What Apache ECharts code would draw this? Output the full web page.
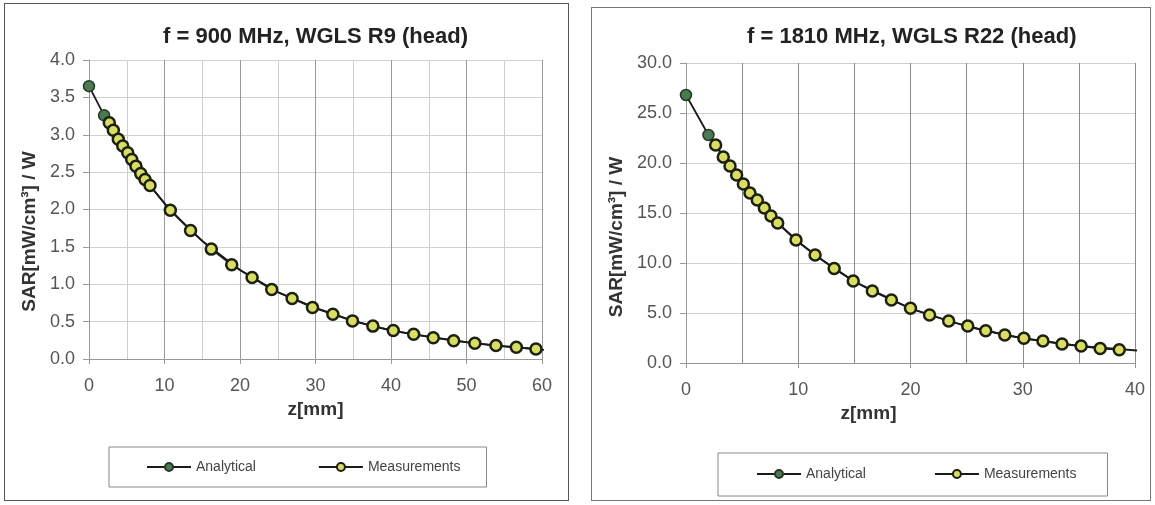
<!DOCTYPE html>
<html lang="en">
<head>
    <meta charset="UTF-8">
    <script src="https://cdn.jsdelivr.net/npm/echarts@6/dist/echarts.min.js"></script>
    <title>SAR vs depth</title>
    <style>
        body {
            margin: 0;
            background: #fff;
        }

        .frame {
            position: absolute;
            box-sizing: border-box;
            border: 1px solid #555;
        }

        #frame_900 {
            left: 4px;
            top: 3px;
            width: 565px;
            height: 498px;
        }

        #frame_1810 {
            left: 591px;
            top: 7px;
            width: 560px;
            height: 494px;
            border-color: #777;
        }

        .chart {
            width: 100%;
            height: 100%;
        }
    </style>
</head>

<body>
<div class="frame" id="frame_900"><div class="chart" id="chart_900"></div></div>
<div class="frame" id="frame_1810"><div class="chart" id="chart_1810"></div></div>

<script>
    // f = 900 MHz
    var analyticalZ900 = [0, 2, 4, 6, 8, 10, 12, 15, 20, 25, 30, 35, 40, 45, 50, 55, 60.6];
    var analyticalSar900 = [3.65, 3.26, 2.92, 2.62, 2.33, 2.08, 1.87, 1.58, 1.19, 0.895, 0.685, 0.51, 0.38, 0.30, 0.225, 0.17, 0.12];
    var measZ900 = [2.69, 3.22, 3.88, 4.47, 5.13, 5.66, 6.22, 6.85, 7.42, 8.08, 10.77, 13.45, 16.2, 18.9, 21.6, 24.2,
        26.9, 29.6, 32.3, 34.9, 37.6, 40.3, 43.0, 45.6, 48.3, 51.1, 53.9, 56.6, 59.2];
    var measSar900 = [3.16, 3.06, 2.94, 2.85, 2.76, 2.67, 2.58, 2.48, 2.40, 2.32, 1.99, 1.72, 1.47, 1.26, 1.09, 0.93,
        0.81, 0.69, 0.60, 0.51, 0.44, 0.38, 0.33, 0.285, 0.245, 0.21, 0.18, 0.157, 0.134];

    // f = 1810 MHz
    var analyticalZ1810 = [0, 2, 4, 6, 8, 10, 12, 15, 20, 25, 30, 35, 40.4];
    var analyticalSar1810 = [26.8, 22.8, 19.6, 16.7, 14.2, 12.1, 10.4, 8.15, 5.45, 3.65, 2.47, 1.72, 1.23];
    var measZ1810 = [2.64, 3.32, 3.92, 4.51, 5.11, 5.70, 6.35, 6.98, 7.57, 8.17, 9.8, 11.5, 13.2, 14.9, 16.6, 18.3,
        20.0, 21.7, 23.4, 25.1, 26.7, 28.4, 30.1, 31.8, 33.5, 35.2, 36.9, 38.6];
    var measSar1810 = [21.8, 20.6, 19.7, 18.8, 17.9, 17.0, 16.3, 15.5, 14.7, 14.0, 12.3, 10.8, 9.46, 8.2, 7.2, 6.3,
        5.47, 4.8, 4.2, 3.7, 3.23, 2.8, 2.47, 2.2, 1.9, 1.7, 1.45, 1.33];

    var seriesNames = ['Analytical', 'Measurements'];
    var font = '"Liberation Sans", Arial, sans-serif';

    function pairs(xs, ys) {
        var out = [];
        for (var i = 0; i < xs.length; i++) {
            out.push([xs[i], ys[i]]);
        }
        return out;
    }

    function buildOption(c) {
        return {
            animation: false,
            textStyle: {fontFamily: font},
            title: {
                text: c.title,
                left: c.titleLeft,
                top: c.titleTop,
                padding: 0,
                textStyle: {fontSize: 22, fontWeight: 'bold', color: '#222', fontFamily: font}
            },
            legend: {
                data: seriesNames,
                left: c.legendLeft,
                top: c.legendTop,
                padding: c.legendPadding,
                itemGap: c.legendGap,
                itemWidth: 44,
                itemHeight: 10,
                borderColor: '#888',
                borderWidth: 1,
                textStyle: {fontSize: 14, color: '#444', fontFamily: font}
            },
            grid: {
                left: c.grid[0],
                top: c.grid[1],
                width: c.grid[2],
                height: c.grid[3],
                containLabel: false
            },
            xAxis: {
                type: 'value',
                min: 0,
                max: c.xMax,
                interval: 10,
                name: 'z[mm]',
                nameLocation: 'middle',
                nameGap: c.xNameGap,
                nameTextStyle: {fontSize: 19, fontWeight: 'bold', color: '#333', padding: c.xNamePadding},
                axisLine: {show: true, lineStyle: {color: '#999', width: 1}},
                axisTick: {show: true, length: 5, lineStyle: {color: '#999'}},
                axisLabel: {fontSize: 18, color: '#555', margin: 18},
                splitLine: {show: true, lineStyle: {color: c.vMajor, width: 1}},
                minorTick: {show: false, splitNumber: 2},
                minorSplitLine: {show: true, lineStyle: {color: c.vMinor, width: 1}}
            },
            yAxis: {
                type: 'value',
                min: 0,
                max: c.yMax,
                interval: c.yStep,
                name: 'SAR[mW/cm³] / W',
                nameLocation: 'middle',
                nameRotate: 90,
                nameGap: c.yNameGap,
                nameTextStyle: {fontSize: 19, fontWeight: 'bold', color: '#333', padding: c.yNamePadding},
                axisLine: {show: true, lineStyle: {color: '#999', width: 1}},
                axisTick: {show: true, length: 6, lineStyle: {color: '#999'}},
                axisLabel: {
                    fontSize: 18, color: '#555', margin: 14,
                    formatter: function (v) {
                        return v.toFixed(1);
                    }
                },
                splitLine: {show: true, lineStyle: {color: '#d0d0d0', width: 1}}
            },
            series: [
                {
                    name: seriesNames[0],
                    type: 'line',
                    data: pairs(c.aZ, c.aS),
                    clip: false,
                    z: 2,
                    symbol: 'circle',
                    symbolSize: function (v, p) {
                        return p.dataIndex < 2 ? 11 : 0;
                    },
                    lineStyle: {color: '#1a1a1a', width: 1.8},
                    itemStyle: {color: '#4a7a50', borderColor: '#26382a', borderWidth: 1.5}
                },
                {
                    name: seriesNames[1],
                    type: 'line',
                    data: pairs(c.mZ, c.mS),
                    z: 3,
                    symbol: 'circle',
                    symbolSize: 11,
                    lineStyle: {color: '#1a1a1a', width: 1.8},
                    itemStyle: {color: '#d9de62', borderColor: '#1b2010', borderWidth: 2.5}
                }
            ]
        };
    }

    var chart900 = echarts.init(document.getElementById('chart_900'));
    chart900.setOption(buildOption({
        title: 'f = 900 MHz, WGLS R9 (head)',
        titleLeft: 158, titleTop: 22,
        legendLeft: 104, legendTop: 443, legendPadding: [13, 26, 13, 37], legendGap: 62,
        grid: [84, 56, 453, 299],
        xMax: 60, yMax: 4, yStep: 0.5,
        xNameGap: 36, xNamePadding: [0, 0, 0, 0],
        yNameGap: 41, yNamePadding: [0, 44, 0, 0],
        vMajor: '#9a9a9a', vMinor: '#cfcfcf',
        aZ: analyticalZ900, aS: analyticalSar900, mZ: measZ900, mS: measSar900
    }));

    var chart1810 = echarts.init(document.getElementById('chart_1810'));
    chart1810.setOption(buildOption({
        title: 'f = 1810 MHz, WGLS R22 (head)',
        titleLeft: 155, titleTop: 18,
        legendLeft: 126, legendTop: 445, legendPadding: [14, 31, 15, 38], legendGap: 68,
        grid: [94, 55, 449, 300],
        xMax: 40, yMax: 30, yStep: 5,
        xNameGap: 40, xNamePadding: [0, 84, 0, 0],
        yNameGap: 52, yNamePadding: [0, 48, 0, 0],
        vMajor: '#8a8a8a', vMinor: '#8a8a8a',
        aZ: analyticalZ1810, aS: analyticalSar1810, mZ: measZ1810, mS: measSar1810
    }));
</script>

</body>

</html>
